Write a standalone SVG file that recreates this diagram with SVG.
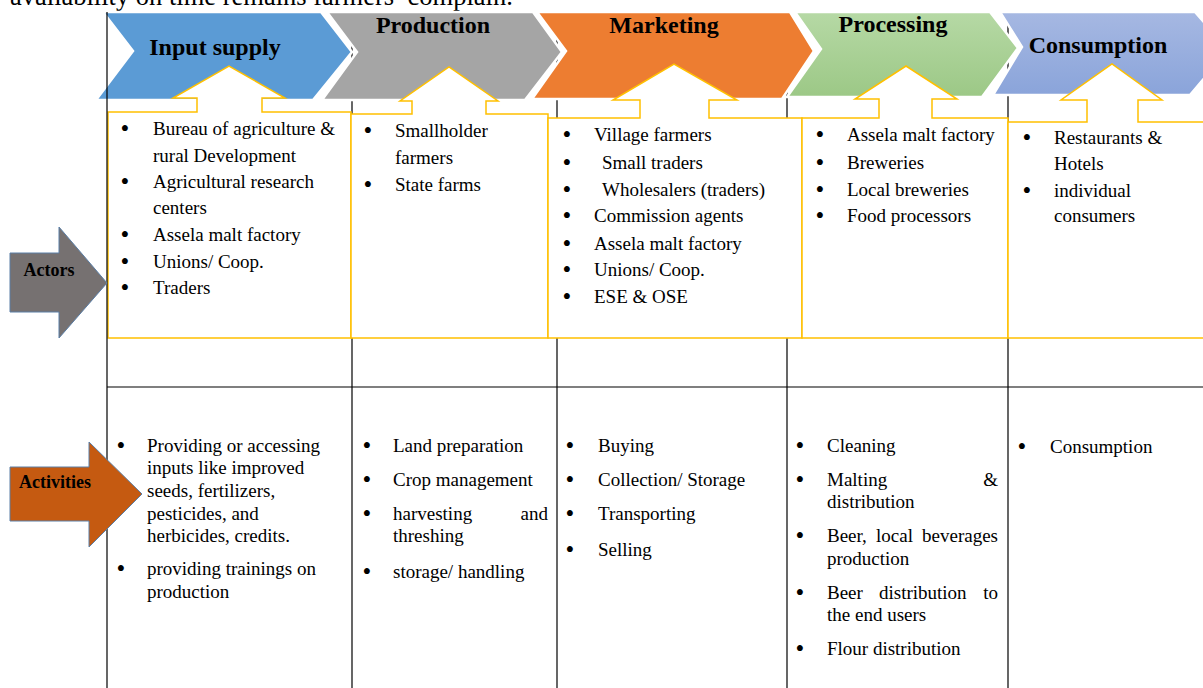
<svg xmlns="http://www.w3.org/2000/svg" width="1203" height="688" viewBox="0 0 1203 688">
<defs>
<linearGradient id="gGreen" x1="0" y1="0" x2="0" y2="1"><stop offset="0" stop-color="#B6D9A5"/><stop offset="1" stop-color="#9CC886"/></linearGradient>
<linearGradient id="gLav" x1="0" y1="0" x2="0" y2="1"><stop offset="0" stop-color="#A6B8E2"/><stop offset="1" stop-color="#8AA4DA"/></linearGradient>
<style>
.t{font-family:"Liberation Serif","Times New Roman",serif;font-size:19px;fill:#000}
.bl{font-family:"Liberation Serif","Times New Roman",serif;font-size:25px;fill:#000;text-anchor:middle;transform:translateY(2px)}
.h{font-family:"Liberation Serif","Times New Roman",serif;font-weight:bold;font-size:24px;fill:#000;text-anchor:middle}
.lab{font-family:"Liberation Serif","Times New Roman",serif;font-weight:bold;font-size:18px;fill:#000;text-anchor:middle}
.ch{stroke:#fff;stroke-width:2.5;stroke-linejoin:miter}
.co{fill:#fff;stroke:#FFC000;stroke-width:1.5}
.gl{stroke:#000;stroke-width:1.2;fill:none}
.ar{stroke:#5A7EA6;stroke-width:1}
</style>
</defs>
<rect x="0" y="0" width="1203" height="688" fill="#fff"/>
<text class="t" x="10" y="5" style="font-size:26.5px">availability on time remains farmers’ complain.</text>

<g id="grid">
<line class="gl" x1="352" y1="12" x2="352" y2="688"/>
<line class="gl" x1="557" y1="12" x2="557" y2="688"/>
<line class="gl" x1="787" y1="12" x2="787" y2="688"/>
<line class="gl" x1="1008" y1="12" x2="1008" y2="688"/>
<line class="gl" x1="107" y1="387" x2="1203" y2="387"/>
</g>

<g id="stage-input">
<polygon class="ch" fill="#5B9BD5" points="103,12 321,12 352,52 313,100 96,100 133,51"/>
<text class="h" x="215" y="55">Input supply</text>
</g>
<g id="stage-production">
<polygon class="ch" fill="#A5A5A5" points="327,12 533,12 562,52 525,100 322,100 357,52"/>
<text class="h" x="433" y="33">Production</text>
</g>
<g id="stage-marketing">
<polygon class="ch" fill="#ED7D31" points="537,12 790,12 814,51 782,99 532,99 566,51"/>
<text class="h" x="664" y="33">Marketing</text>
</g>
<g id="stage-processing">
<polygon class="ch" fill="url(#gGreen)" points="795,12 990,12 1018,48 982,97 787,97 821,49"/>
<text class="h" x="893" y="32">Processing</text>
</g>
<g id="stage-consumption">
<polygon class="ch" fill="url(#gLav)" points="1000,12 1195,12 1228,50 1190,95 993,95 1022,47"/>
<text class="h" x="1098" y="53">Consumption</text>
</g>

<g id="actors-input">
<path class="co" d="M108,112 H197 V98 H173 L229,66 L285,98 H262 V112 H351 V338 H108 Z"/>
<text class="bl" x="125" y="135">•</text><text class="t" x="153" y="135">Bureau of agriculture &amp;</text>
<text class="t" x="153" y="162">rural Development</text>
<text class="bl" x="125" y="188">•</text><text class="t" x="153" y="188">Agricultural research</text>
<text class="t" x="153" y="214">centers</text>
<text class="bl" x="125" y="241">•</text><text class="t" x="153" y="241">Assela malt factory</text>
<text class="bl" x="125" y="268">•</text><text class="t" x="153" y="268">Unions/ Coop.</text>
<text class="bl" x="125" y="294">•</text><text class="t" x="153" y="294">Traders</text>
</g>
<g id="actors-production">
<path class="co" d="M351,114 H412 V101 H400 L449,67 L498,101 H486 V114 H548 V338 H351 Z"/>
<text class="bl" x="368" y="137">•</text><text class="t" x="395" y="137">Smallholder</text>
<text class="t" x="395" y="164">farmers</text>
<text class="bl" x="368" y="191">•</text><text class="t" x="395" y="191">State farms</text>
</g>
<g id="actors-marketing">
<path class="co" d="M548,118 H640 V100 H613 L674,64 L737,100 H709 V118 H802 V338 H548 Z"/>
<text class="bl" x="567" y="141">•</text><text class="t" x="594" y="141">Village farmers</text>
<text class="bl" x="567" y="169">•</text><text class="t" x="602" y="169">Small traders</text>
<text class="bl" x="567" y="196">•</text><text class="t" x="602" y="196">Wholesalers (traders)</text>
<text class="bl" x="567" y="222">•</text><text class="t" x="594" y="222">Commission agents</text>
<text class="bl" x="567" y="250">•</text><text class="t" x="594" y="250">Assela malt factory</text>
<text class="bl" x="567" y="276">•</text><text class="t" x="594" y="276">Unions/ Coop.</text>
<text class="bl" x="567" y="303">•</text><text class="t" x="594" y="303">ESE &amp; OSE</text>
</g>
<g id="actors-processing">
<path class="co" d="M802,118 H879 V99 H855 L906,66 L957,99 H932 V118 H1008 V338 H802 Z"/>
<text class="bl" x="820" y="141">•</text><text class="t" x="847" y="141">Assela malt factory</text>
<text class="bl" x="820" y="169">•</text><text class="t" x="847" y="169">Breweries</text>
<text class="bl" x="820" y="196">•</text><text class="t" x="847" y="196">Local breweries</text>
<text class="bl" x="820" y="222">•</text><text class="t" x="847" y="222">Food processors</text>
</g>
<g id="actors-consumption">
<path class="co" d="M1008,122 H1087 V100 H1061 L1112,64 L1162,100 H1138 V122 H1210 V338 H1008 Z"/>
<text class="bl" x="1027" y="144">•</text><text class="t" x="1054" y="144">Restaurants &amp;</text>
<text class="t" x="1054" y="170">Hotels</text>
<text class="bl" x="1027" y="197">•</text><text class="t" x="1054" y="197">individual</text>
<text class="t" x="1054" y="222">consumers</text>
</g>

<line class="gl" x1="107" y1="12" x2="107" y2="688"/>

<g id="row-actors">
<polygon class="ar" fill="#767171" points="10,253 59,253 59,227 107,283 59,338 59,312 10,312"/>
<text class="lab" x="49" y="276">Actors</text>
</g>
<g id="row-activities">
<polygon class="ar" fill="#C55A11" points="10,467 89,467 89,442 142,494 89,547 89,521 10,521"/>
<text class="lab" x="55" y="488">Activities</text>
</g>

<g id="activities-input">
<text class="bl" x="121" y="452">•</text><text class="t" x="147" y="452">Providing or accessing</text>
<text class="t" x="147" y="474">inputs like improved</text>
<text class="t" x="147" y="497">seeds, fertilizers,</text>
<text class="t" x="147" y="520">pesticides, and</text>
<text class="t" x="147" y="542">herbicides, credits.</text>
<text class="bl" x="121" y="575">•</text><text class="t" x="147" y="575">providing trainings on</text>
<text class="t" x="147" y="598">production</text>
</g>
<g id="activities-production">
<text class="bl" x="367" y="452">•</text><text class="t" x="393" y="452">Land preparation</text>
<text class="bl" x="367" y="486">•</text><text class="t" x="393" y="486">Crop management</text>
<text class="bl" x="367" y="520">•</text><text class="t" x="393" y="520">harvesting</text><text class="t" x="548" y="520" text-anchor="end">and</text>
<text class="t" x="393" y="542">threshing</text>
<text class="bl" x="367" y="578">•</text><text class="t" x="393" y="578">storage/ handling</text>
</g>
<g id="activities-marketing">
<text class="bl" x="570" y="452">•</text><text class="t" x="598" y="452">Buying</text>
<text class="bl" x="570" y="486">•</text><text class="t" x="598" y="486">Collection/ Storage</text>
<text class="bl" x="570" y="520">•</text><text class="t" x="598" y="520">Transporting</text>
<text class="bl" x="570" y="556">•</text><text class="t" x="598" y="556">Selling</text>
</g>
<g id="activities-processing">
<text class="bl" x="800" y="452">•</text><text class="t" x="827" y="452">Cleaning</text>
<text class="bl" x="800" y="486">•</text><text class="t" x="827" y="486">Malting</text><text class="t" x="998" y="486" text-anchor="end">&amp;</text>
<text class="t" x="827" y="508">distribution</text>
<text class="bl" x="800" y="542">•</text><text class="t" y="542"><tspan x="827">Beer,</tspan><tspan x="876">local</tspan></text><text class="t" x="998" y="542" text-anchor="end">beverages</text>
<text class="t" x="827" y="565">production</text>
<text class="bl" x="800" y="599">•</text><text class="t" y="599"><tspan x="827">Beer</tspan><tspan x="879">distribution</tspan></text><text class="t" x="998" y="599" text-anchor="end">to</text>
<text class="t" x="827" y="621">the end users</text>
<text class="bl" x="800" y="655">•</text><text class="t" x="827" y="655">Flour distribution</text>
</g>
<g id="activities-consumption">
<text class="bl" x="1022" y="453">•</text><text class="t" x="1050" y="453">Consumption</text>
</g>
</svg>
